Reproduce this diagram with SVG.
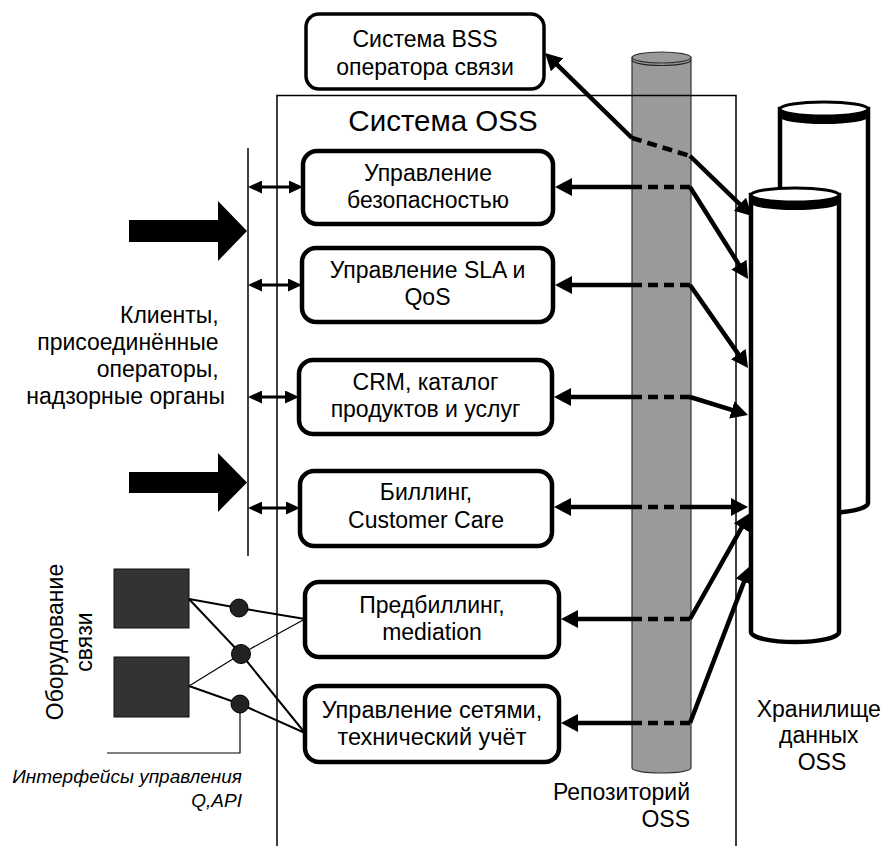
<svg xmlns="http://www.w3.org/2000/svg" width="888" height="846" viewBox="0 0 888 846">
  <style>
    text { font-family: "Liberation Sans", Arial, sans-serif; fill: #000; }
    .t { font-size: 23px; text-anchor: middle; }
    .tl { font-size: 23.5px; text-anchor: middle; }
    .lbl { font-size: 23px; }
    .title { font-size: 29.5px; text-anchor: middle; }
    .it { font-size: 19px; font-style: italic; text-anchor: end; }
    .box { fill: #fff; stroke: #000; stroke-width: 4.5; }
    .frame { fill: none; stroke: #000; stroke-width: 1.5; }
    .link { fill: none; stroke: #000; stroke-width: 4.5; }
    .dash { fill: none; stroke: #000; stroke-width: 4.5; stroke-dasharray: 10 6; }
    .dbl { fill: none; stroke: #000; stroke-width: 3; }
    .wire { fill: none; stroke: #000; stroke-width: 2; }
    .wire-thin { fill: none; stroke: #000; stroke-width: 1.2; }
    .dev { fill: #333; stroke: #111; stroke-width: 1; }
    .port { fill: #222; stroke: #000; stroke-width: 1; }
    .cyl { fill: #fff; stroke: #000; stroke-width: 4.5; }
    .cyl-top { fill: #fff; stroke: #000; stroke-width: 3; }
    .repo { fill: #9a9a9a; stroke: #333; stroke-width: 1.2; }
  </style>
  <defs>
    <marker id="ah" markerUnits="userSpaceOnUse" markerWidth="17" markerHeight="18" refX="11" refY="9" orient="auto-start-reverse">
      <path d="M0,0 L17,9 L0,18 Z" fill="#000"/>
    </marker>
    <marker id="ahs" markerUnits="userSpaceOnUse" markerWidth="14" markerHeight="13" refX="8" refY="6.5" orient="auto-start-reverse">
      <path d="M0,0 L14,6.5 L0,13 Z" fill="#000"/>
    </marker>
  </defs>

  <!-- OSS repository column -->
  <g id="repository">
    <path class="repo" d="M632,57.5 L632,768 A29.5,5 0 0 0 691,768 L691,57.5 Z"/>
    <ellipse class="repo" cx="661.5" cy="57.5" rx="29.5" ry="5.5"/>
    <path d="M632,60 A29.5,5.5 0 0 0 691,60" fill="none" stroke="#222" stroke-width="1.2"/>
    <text class="lbl" x="690" y="800" text-anchor="end">Репозиторий</text>
    <text class="lbl" x="690" y="827" text-anchor="end">OSS</text>
  </g>

  <!-- OSS system frame -->
  <g id="oss-frame">
    <path class="frame" d="M277,846 L277,95.5 L736,95.5 L736,846"/>
    <text class="title" x="443" y="131">Система OSS</text>
  </g>

  <!-- external parties bus -->
  <g id="clients">
    <line x1="248" y1="148" x2="248" y2="556" stroke="#000" stroke-width="1.5"/>
    <path d="M129,220 L218,220 L218,201 L247,231 L218,261 L218,242 L129,242 Z" fill="#000"/>
    <path d="M129,472 L218,472 L218,453 L247,482.5 L218,512 L218,493 L129,493 Z" fill="#000"/>
    <text class="lbl" text-anchor="end">
      <tspan x="225" y="323">Клиенты,</tspan>
      <tspan x="225" y="350">присоединённые</tspan>
      <tspan x="225" y="377">операторы,</tspan>
      <tspan x="225" y="404">надзорные органы</tspan>
    </text>
  </g>

  <!-- BSS -->
  <g id="bss">
    <rect x="306" y="14" width="238" height="75" rx="13" fill="#fff" stroke="#000" stroke-width="3.5"/>
    <text class="t" x="425" y="47">Система BSS</text>
    <text class="t" x="425" y="75">оператора связи</text>
  </g>

  <!-- OSS modules -->
  <g id="security">
    <rect class="box" x="303" y="151" width="250" height="73" rx="14"/>
    <text class="t" x="428" y="181">Управление</text>
    <text class="t" x="428" y="208">безопасностью</text>
  </g>
  <g id="sla">
    <rect class="box" x="302" y="248" width="251" height="74" rx="14"/>
    <text class="t" x="427.5" y="278">Управление SLA и</text>
    <text class="t" x="427.5" y="305">QoS</text>
  </g>
  <g id="crm">
    <rect class="box" x="299" y="360" width="253" height="74" rx="14"/>
    <text class="t" x="425.5" y="390">CRM, каталог</text>
    <text class="t" x="425.5" y="417">продуктов и услуг</text>
  </g>
  <g id="billing">
    <rect class="box" x="300" y="471" width="252" height="75" rx="14"/>
    <text class="t" x="426" y="500">Биллинг,</text>
    <text class="t" x="426" y="528">Customer Care</text>
  </g>
  <g id="mediation">
    <rect class="box" x="305" y="582" width="254" height="75" rx="14"/>
    <text class="t" x="432" y="613">Предбиллинг,</text>
    <text class="t" x="432" y="640">mediation</text>
  </g>
  <g id="network">
    <rect class="box" x="305" y="686" width="254" height="76" rx="14"/>
    <text class="tl" x="432" y="718">Управление сетями,</text>
    <text class="tl" x="432" y="745">технический учёт</text>
  </g>

  <!-- OSS data warehouse -->
  <g id="storage">
    <path class="cyl" d="M780,109 L780,503 A44,10 0 0 0 868,503 L868,109 Z"/>
    <ellipse class="cyl-top" cx="824" cy="109" rx="44" ry="7"/>
    <path d="M780,109 A44,7 0 0 0 868,109 L868,117 A44,7 0 0 1 780,117 Z" fill="#000"/>
    <path class="cyl" d="M751,195 L751,632 A44,10 0 0 0 839,632 L839,195 Z"/>
    <ellipse class="cyl-top" cx="795" cy="195" rx="44" ry="7"/>
    <path d="M751,195 A44,7 0 0 0 839,195 L839,203 A44,7 0 0 1 751,203 Z" fill="#000"/>
    <text class="lbl" text-anchor="middle">
      <tspan x="822" y="717">Хранилище</tspan>
      <tspan x="822" y="743">данных</tspan>
      <tspan x="822" y="770">OSS</tspan>
    </text>
  </g>

  <!-- network equipment and management interfaces -->
  <g id="equipment">
    <rect class="dev" x="114" y="569" width="75" height="59"/>
    <rect class="dev" x="114" y="657" width="75" height="60"/>
    <text class="lbl" transform="translate(63,642) rotate(-90)" text-anchor="middle">Оборудование</text>
    <text class="lbl" transform="translate(92,642) rotate(-90)" text-anchor="middle">связи</text>
    <text class="it" x="242" y="783">Интерфейсы управления</text>
    <text class="it" x="242" y="807">Q,API</text>
  </g>

  <!-- connectors -->
  <g id="connectors">
    <!-- client bus to modules -->
    <line class="dbl" x1="254" y1="187" x2="297" y2="187" marker-start="url(#ahs)" marker-end="url(#ahs)"/>
    <line class="dbl" x1="254" y1="285" x2="296" y2="285" marker-start="url(#ahs)" marker-end="url(#ahs)"/>
    <line class="dbl" x1="254" y1="397" x2="293" y2="397" marker-start="url(#ahs)" marker-end="url(#ahs)"/>
    <line class="dbl" x1="254" y1="508" x2="294" y2="508" marker-start="url(#ahs)" marker-end="url(#ahs)"/>

    <!-- equipment wiring -->
    <line class="wire" x1="189" y1="599" x2="239" y2="608"/>
    <line class="wire" x1="189" y1="599" x2="241" y2="654"/>
    <line class="wire" x1="239" y1="608" x2="305" y2="619"/>
    <line class="wire-thin" x1="241" y1="654" x2="305" y2="619"/>
    <line class="wire" x1="241" y1="654" x2="305" y2="733"/>
    <line class="wire-thin" x1="189" y1="686" x2="241" y2="654"/>
    <line class="wire" x1="189" y1="686" x2="240" y2="704"/>
    <line class="wire" x1="240" y1="704" x2="305" y2="733"/>
    <path class="wire-thin" d="M240,704 L240,753 L107,753"/>
    <circle class="port" cx="239" cy="608" r="9"/>
    <circle class="port" cx="241" cy="654" r="9.5"/>
    <circle class="port" cx="240" cy="704" r="9"/>

    <!-- BSS link through the repository -->
    <line class="link" x1="632" y1="138" x2="549.3" y2="57.2" marker-end="url(#ah)"/>
    <line class="dash" x1="632" y1="138" x2="690" y2="156"/>
    <line class="link" x1="690" y1="156" x2="747.7" y2="211.8" marker-end="url(#ah)"/>

    <!-- repository to modules -->
    <line class="link" x1="632" y1="187" x2="561" y2="187" marker-end="url(#ah)"/>
    <line class="dash" x1="632" y1="187" x2="690" y2="187"/>
    <line class="link" x1="690" y1="187" x2="744.8" y2="273.9" marker-end="url(#ah)"/>

    <line class="link" x1="632" y1="285" x2="561" y2="285" marker-end="url(#ah)"/>
    <line class="dash" x1="632" y1="285" x2="690" y2="285"/>
    <line class="link" x1="690" y1="285" x2="744.6" y2="363.1" marker-end="url(#ah)"/>

    <line class="link" x1="632" y1="397" x2="560" y2="397" marker-end="url(#ah)"/>
    <line class="dash" x1="632" y1="397" x2="690" y2="397"/>
    <line class="link" x1="690" y1="397" x2="742.3" y2="413.2" marker-end="url(#ah)"/>

    <line class="link" x1="632" y1="507" x2="560" y2="507" marker-end="url(#ah)"/>
    <line class="dash" x1="632" y1="507" x2="690" y2="507"/>
    <line class="link" x1="690" y1="507" x2="742" y2="507" marker-end="url(#ah)"/>

    <line class="link" x1="632" y1="619" x2="567" y2="619" marker-end="url(#ah)"/>
    <line class="dash" x1="632" y1="619" x2="690" y2="619"/>
    <line class="link" x1="690" y1="619" x2="747" y2="518.2" marker-end="url(#ah)"/>

    <line class="link" x1="632" y1="723" x2="567" y2="723" marker-end="url(#ah)"/>
    <line class="dash" x1="632" y1="723" x2="690" y2="723"/>
    <line class="link" x1="690" y1="723" x2="747.9" y2="571.6" marker-end="url(#ah)"/>
  </g>
</svg>
